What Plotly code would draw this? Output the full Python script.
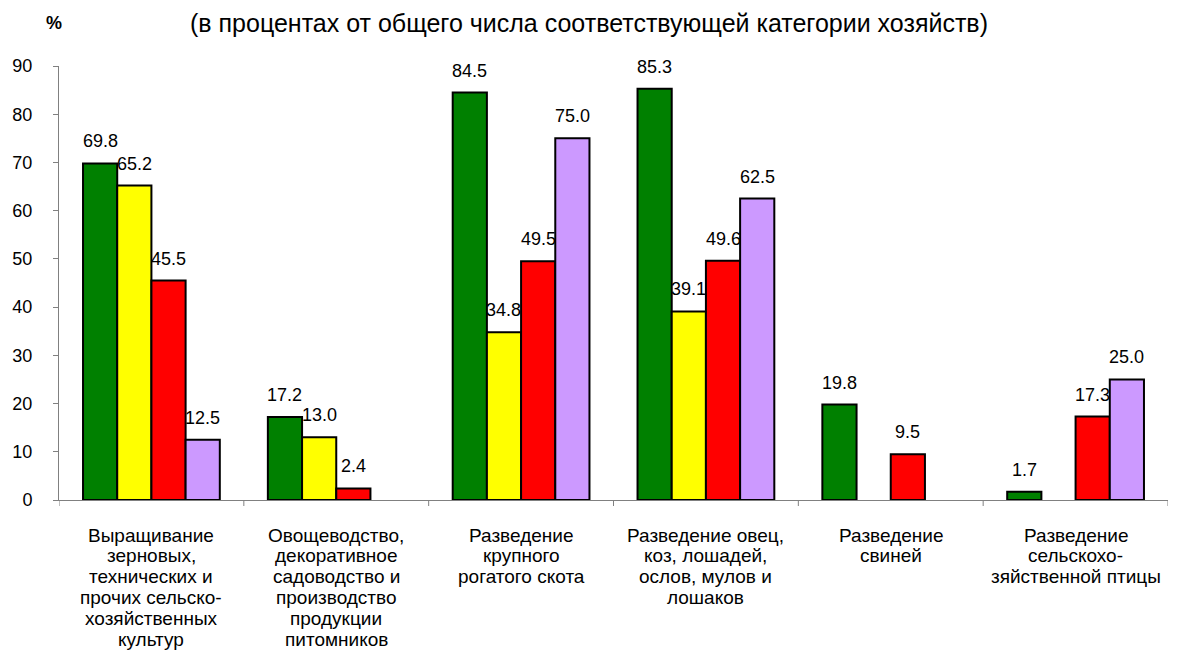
import plotly.graph_objects as go

categories = [
    ["Выращивание", "зерновых,", "технических и", "прочих сельско-", "хозяйственных", "культур"],
    ["Овощеводство,", "декоративное", "садоводство и", "производство", "продукции", "питомников"],
    ["Разведение", "крупного", "рогатого скота"],
    ["Разведение овец,", "коз, лошадей,", "ослов, мулов и", "лошаков"],
    ["Разведение", "свиней"],
    ["Разведение", "сельскохо-", "зяйственной птицы"],
]
series_green = [69.8, 17.2, 84.5, 85.3, 19.8, 1.7]
series_yellow = [65.2, 13.0, 34.8, 39.1, None, None]
series_red = [45.5, 2.4, 49.5, 49.6, 9.5, 17.3]
series_violet = [12.5, None, 75.0, 62.5, None, 25.0]
y_ticks = [0, 10, 20, 30, 40, 50, 60, 70, 80, 90]
title_text = "(в процентах от общего числа соответствующей категории хозяйств)"
unit_text = "%"

series = [series_green, series_yellow, series_red, series_violet]
colors = ["#008000", "#FFFF00", "#FF0000", "#CC99FF"]
FONT = "Arial, Liberation Sans, sans-serif"
bargap = 0.26

OFF = 8  # page margin around the figure inside the 1178x659 browser window
W, H = 1160, 643
ml, mr, mt = 51, 0, 58
ph = 434
mb = H - mt - ph
pw = W - ml - mr


def paper(xs, ys):
    fx, fy = xs - OFF, ys - OFF
    return (fx - ml) / pw, (H - mb - fy) / ph


n = len(categories)
xs = list(range(n))
fig = go.Figure()
for vals, col in zip(series, colors):
    fig.add_trace(go.Bar(
        x=xs, y=vals, marker=dict(color=col, line=dict(color="black", width=2)),
        showlegend=False, hoverinfo="skip"))

w = (1 - bargap) / len(series)
annotations = []
for j, vals in enumerate(series):
    for i, v in enumerate(vals):
        if v is None:
            continue
        annotations.append(dict(
            x=i + (j - (len(series) - 1) / 2) * w, y=v, xref="x", yref="y",
            text=f"{v:.1f}", showarrow=False, yanchor="middle", yshift=22,
            font=dict(family=FONT, size=18, color="black")))

# category labels, one annotation per line for tight line spacing
for i, lines in enumerate(categories):
    for k, line in enumerate(lines):
        annotations.append(dict(
            x=i, y=0, xref="x", yref="paper", text=line, showarrow=False,
            xanchor="center", yanchor="middle", yshift=-(35 + 20.9 * k),
            font=dict(family=FONT, size=19, color="black")))

tx, ty = paper(589, 23)
annotations.append(dict(
    x=tx, y=ty, xref="paper", yref="paper", xanchor="center", yanchor="middle",
    text=title_text, showarrow=False, font=dict(family=FONT, size=25, color="black")))
ux, uy = paper(54, 23)
annotations.append(dict(
    x=ux, y=uy, xref="paper", yref="paper", xanchor="center", yanchor="middle",
    text=f"<b>{unit_text}</b>", showarrow=False, font=dict(family=FONT, size=18, color="black")))

fig.update_layout(
    annotations=annotations,
    width=W, height=H, autosize=False,
    margin=dict(l=ml, r=mr, t=mt, b=mb, pad=0),
    paper_bgcolor="white", plot_bgcolor="white",
    barmode="group", bargap=bargap, bargroupgap=0,
    font=dict(family=FONT, color="black"),
    xaxis=dict(
        tickmode="array", tickvals=xs, ticktext=["" for _ in xs],
        range=[-0.5, n - 0.5],
        showline=True, linecolor="#808080", linewidth=1,
        ticks="", showgrid=False, zeroline=False),
    yaxis=dict(
        range=[0, 90], tickvals=y_ticks, showline=True, linecolor="#808080", linewidth=1,
        ticks="outside", ticklen=5, tickcolor="#808080", showgrid=False, zeroline=False,
        ticklabelstandoff=17,
        tickfont=dict(family=FONT, size=18, color="black")),
)

# boundary ticks on the category axis
for b in range(n + 1):
    fig.add_shape(type="line", xref="x", yref="paper", x0=b - 0.5, x1=b - 0.5, y0=0, y1=-6 / ph,
                  line=dict(color="#808080", width=1))

fig.write_html("out.html")
